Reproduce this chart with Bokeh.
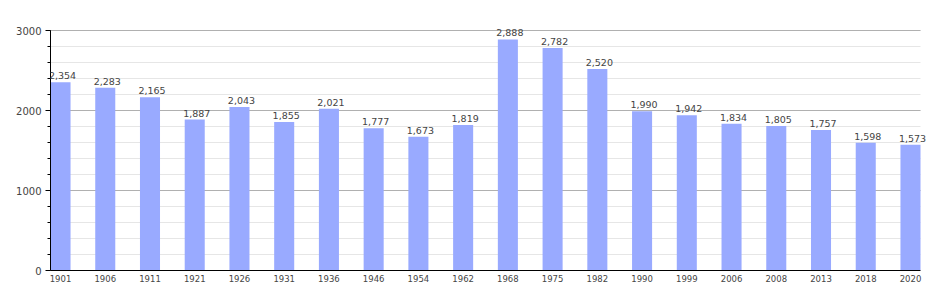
from bokeh.plotting import figure
from bokeh.models import ColumnDataSource, Range1d, FixedTicker, LabelSet
from bokeh.core.properties import value
from bokeh.embed import file_html
from bokeh.resources import INLINE

years = ["1901", "1906", "1911", "1921", "1926", "1931", "1936", "1946", "1954", "1962",
         "1968", "1975", "1982", "1990", "1999", "2006", "2008", "2013", "2018", "2020"]
population = [2354, 2283, 2165, 1887, 2043, 1855, 2021, 1777, 1673, 1819,
              2888, 2782, 2520, 1990, 1942, 1834, 1805, 1757, 1598, 1573]
y_major_ticks = [0, 1000, 2000, 3000]
y_minor_ticks = list(range(0, 3001, 200))
y_max = 3000

idx = list(range(len(years)))
labels = [f"{v:,}" for v in population]
src = ColumnDataSource(dict(x=idx, top=population, lab=labels))

n = len(years)
bw = 0.448
x_lo = -bw / 2
x_hi = n - 1 + bw / 2
px_per_x = 870 / (x_hi - x_lo)          # bar area spans 870 px
x_end = x_hi + 10 / px_per_x            # 10 px extra room for labels
y_end = y_max + 10 / (240 / y_max)      # 10 px extra room above

p = figure(width=950, height=300, output_backend="svg", toolbar_location=None,
           x_range=Range1d(x_lo, x_end), y_range=Range1d(0, y_end),
           min_border_left=50, min_border_right=20, min_border_top=20, min_border_bottom=30)
p.outline_line_color = None
p.background_fill_color = "white"
p.border_fill_color = "white"

p.vbar(x="x", top="top", width=bw, source=src, fill_color="#99aaff", line_color=None)

lbl = LabelSet(x="x", y="top", text="lab", source=src, text_align="center",
               text_baseline="bottom", x_offset=2, y_offset=3, text_font=value("DejaVu Sans"),
               text_font_size=value("9.5px"), text_color=value("#444444"))
p.add_layout(lbl)

# y axis
p.yaxis.ticker = FixedTicker(ticks=y_major_ticks, minor_ticks=y_minor_ticks)
p.yaxis.bounds = (0, y_max)
p.yaxis.axis_line_color = "black"
p.yaxis.major_tick_out = 5
p.yaxis.major_tick_in = 0
p.yaxis.minor_tick_out = 3
p.yaxis.minor_tick_in = 0
p.yaxis.major_tick_line_color = "black"
p.yaxis.minor_tick_line_color = "black"
p.yaxis.major_label_standoff = 4
p.yaxis.major_label_text_font = "DejaVu Sans"
p.yaxis.major_label_text_font_size = "10px"
p.yaxis.major_label_text_color = "#444444"

# x axis
p.xaxis.ticker = FixedTicker(ticks=idx)
p.xaxis.bounds = (x_lo, x_hi)
p.xaxis.major_label_overrides = {i: y for i, y in zip(idx, years)}
p.xaxis.axis_line_color = "black"
p.xaxis.major_tick_line_color = None
p.xaxis.minor_tick_line_color = None
p.xaxis.major_tick_out = 0
p.xaxis.major_tick_in = 0
p.xaxis.major_label_standoff = 4
p.xaxis.major_label_text_font = "DejaVu Sans"
p.xaxis.major_label_text_font_size = "8.5px"
p.xaxis.major_label_text_color = "#444444"

# grid
p.xgrid.grid_line_color = None
p.ygrid.ticker = FixedTicker(ticks=y_major_ticks, minor_ticks=y_minor_ticks)
p.ygrid.bounds = (0, y_max)
p.ygrid.cross_bounds = (x_lo, x_hi)
p.ygrid.grid_line_color = "#b0b0b0"
p.ygrid.minor_grid_line_color = "#e6e6e6"
p.ygrid.level = "underlay"

open("out.html", "w").write(file_html(p, INLINE))
